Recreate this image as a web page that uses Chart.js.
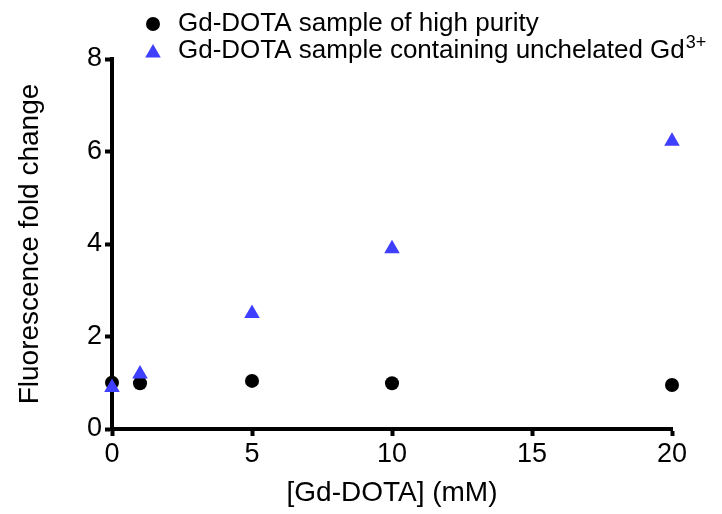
<!DOCTYPE html>
<html><head><meta charset="utf-8">
<script src="https://cdn.jsdelivr.net/npm/chart.js@4/dist/chart.umd.min.js"></script>
<style>html,body{margin:0;padding:0;background:#fff;}canvas{display:block}</style>
</head><body>
<canvas id="c" width="722" height="514"></canvas>
<script>
const concentrations = [0, 1, 5, 10, 20];
const highPurity = [1.00, 0.99, 1.04, 0.99, 0.95];
const unchelated = [0.90, 1.19, 2.50, 3.90, 6.22];
const seriesNames = ['Gd-DOTA sample of high purity', 'Gd-DOTA sample containing unchelated Gd'];
const seriesSuperscripts = ['', '3+'];
const xTicks = [0, 5, 10, 15, 20];
const yTicks = [0, 2, 4, 6, 8];
const xTitle = '[Gd-DOTA] (mM)';
const yTitle = 'Fluorescence fold change';

const FONT = "'Liberation Sans', Arial, Helvetica, sans-serif";
const BLACK = '#000000';
const BLUE = '#3f3fff';

const toPts = (ys) => concentrations.map((x, i) => ({x: x, y: ys[i]}));

const legendPlugin = {
  id: 'customLegend',
  afterDraw(chart) {
    const ctx = chart.ctx;
    ctx.save();
    const rows = [
      {y: 24, style: 'circle', color: BLACK},
      {y: 51, style: 'triangle', color: BLUE}
    ];
    const mx = 153, tx = 178;
    rows.forEach((r, i) => {
      ctx.fillStyle = r.color;
      ctx.beginPath();
      if (r.style === 'circle') {
        ctx.arc(mx, r.y, 7, 0, Math.PI * 2);
      } else {
        const rad = 9;
        const cy = r.y + 2;
        ctx.moveTo(mx, cy - rad);
        ctx.lineTo(mx + rad * Math.sin(Math.PI * 2 / 3), cy + rad / 2);
        ctx.lineTo(mx - rad * Math.sin(Math.PI * 2 / 3), cy + rad / 2);
        ctx.closePath();
      }
      ctx.fill();
      ctx.fillStyle = BLACK;
      ctx.textBaseline = 'middle';
      ctx.textAlign = 'left';
      ctx.font = '26px ' + FONT;
      ctx.fillText(seriesNames[i], tx, r.y);
      if (seriesSuperscripts[i]) {
        const w = ctx.measureText(seriesNames[i]).width;
        ctx.font = '18px ' + FONT;
        ctx.fillText(seriesSuperscripts[i], tx + w + 1, r.y - 8);
      }
    });
    ctx.restore();
  }
};

new Chart(document.getElementById('c'), {
  type: 'scatter',
  data: {
    datasets: [
      {
        label: seriesNames[1],
        data: toPts(unchelated),
        pointStyle: 'triangle',
        pointRadius: 9,
        pointHoverRadius: 9,
        backgroundColor: BLUE,
        borderColor: BLUE,
        borderWidth: 0,
        clip: false,
        order: 0
      },
      {
        label: seriesNames[0],
        data: toPts(highPurity),
        pointStyle: 'circle',
        pointRadius: 7,
        pointHoverRadius: 7,
        backgroundColor: BLACK,
        borderColor: BLACK,
        borderWidth: 0,
        clip: false,
        order: 1
      }
    ]
  },
  options: {
    responsive: false,
    animation: false,
    events: [],
    layout: {autoPadding: false, padding: {top: 59, right: 50, left: 0, bottom: 0}},
    plugins: {legend: {display: false}, tooltip: {enabled: false}},
    scales: {
      x: {
        type: 'linear',
        min: 0, max: 20,
        afterFit: (s) => { s.height = 85; },
        afterBuildTicks: (s) => { s.ticks = xTicks.map(v => ({value: v})); },
        ticks: {color: BLACK, font: {family: FONT, size: 27}, padding: 2, maxRotation: 0},
        grid: {drawOnChartArea: false, drawTicks: true, tickLength: 7, tickWidth: 4, tickColor: BLACK},
        border: {display: true, width: 4, color: BLACK},
        title: {display: true, text: xTitle, color: BLACK, font: {family: FONT, size: 28, lineHeight: 1.2}, padding: {top: 0, bottom: 4}}
      },
      y: {
        type: 'linear',
        min: 0, max: 8,
        afterFit: (s) => { s.width = 112; },
        afterBuildTicks: (s) => { s.ticks = yTicks.map(v => ({value: v})); },
        ticks: {color: BLACK, font: {family: FONT, size: 27}, padding: 3},
        grid: {drawOnChartArea: false, drawTicks: true, tickLength: 7, tickWidth: 4, tickColor: BLACK},
        border: {display: true, width: 4, color: BLACK},
        title: {display: true, text: yTitle, color: BLACK, font: {family: FONT, size: 28, lineHeight: 1.2}, padding: {top: 13, bottom: 0}}
      }
    }
  },
  plugins: [legendPlugin]
});
</script>
</body></html>
